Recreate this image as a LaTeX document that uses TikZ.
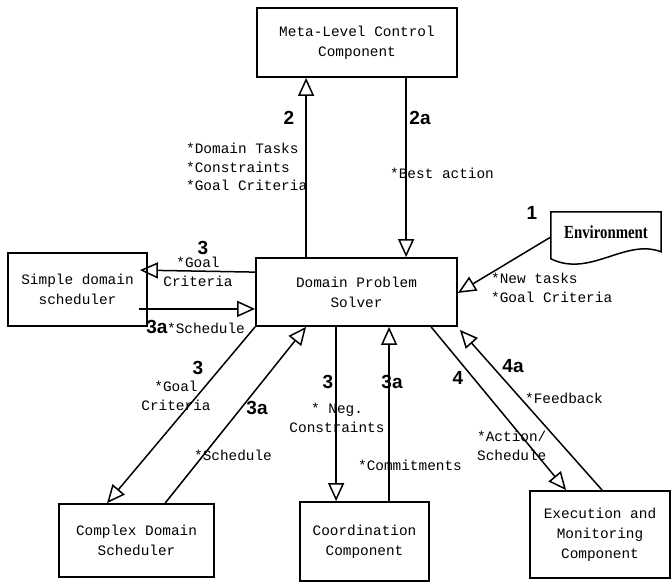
\documentclass[tikz,border=0pt]{standalone}
\usepackage{fontspec}
\setmonofont{Liberation Mono}
\newfontfamily\numfont{Liberation Sans}
\newfontfamily\envfont[FakeStretch=0.8]{Liberation Serif}
\usetikzlibrary{arrows.meta}
\usetikzlibrary{calc}

\begin{document}
\begin{tikzpicture}[x=1pt, y=-1pt,
	box/.style={draw, line width=1.8pt, inner sep=0pt, align=center,
		font=\ttfamily\fontsize{14.4}{20}\selectfont},
	flow/.style={line width=1.5pt, -{Triangle[open, length=18pt, width=16pt]}},
	lbl/.style={inner sep=0pt, font=\ttfamily\fontsize{14.4}{18.5}\selectfont},
	num/.style={inner sep=0pt, font=\numfont\bfseries\fontsize{19}{19}\selectfont}]
	\useasboundingbox (0,0) rectangle (671,582);
	
	% the boxes
	\node[box, minimum width=200pt, minimum height=69pt] (meta) at (357,42.5) {Meta-Level Control\\Component};
	\node[box, minimum width=201pt, minimum height=68pt] (dps) at (356.5,292) {Domain Problem\\Solver};
	\node[box, minimum width=139pt, minimum height=73pt] (simple) at (77.5,289.5) {Simple domain\\scheduler};
	\node[box, minimum width=155pt, minimum height=73pt] (complex) at (136.5,540.5) {Complex Domain\\Scheduler};
	\node[box, minimum width=129pt, minimum height=79pt] (coord) at (364.5,541.5) {Coordination\\Component};
	\node[box, minimum width=140pt, minimum height=87pt] (exec) at (600,534.5) {Execution and\\Monitoring\\Component};
	
	% environment (document shape)
	\node[inner sep=0pt, minimum width=110pt, minimum height=40pt,
		font=\envfont\bfseries\fontsize{18.5}{18.5}\selectfont] (env) at (606,232) {Environment};
	\draw[line width=1.5pt] (env.north west) -- (env.north east) -- ([yshift=-40pt]env.north east)
		.. controls (625,238) and (590,278) .. ([yshift=-47pt]env.north west) -- cycle;
	
	% meta level
	\draw[flow] ([xshift=51pt]dps.north west) -- ([xshift=50pt]meta.south west);
	\draw[flow] ([xshift=150pt]meta.south west) -- ([xshift=151pt]dps.north west);
	\node[num] at (289,118) {2};
	\node[num] at (420,118) {2a};
	\node[lbl, anchor=west, align=left] at (186,167) {*Domain Tasks\\*Constraints\\*Goal Criteria};
	\node[lbl, anchor=west] at (390,173) {*Best action};
	
	% environment
	\draw[flow] ([yshift=-5pt]env.west) -- ([yshift=34pt]dps.south east);
	\node[num] at (532,213) {1};
	\node[lbl, anchor=west, align=left] at (491,288) {*New tasks\\*Goal Criteria};
	
	% simple domain scheduler
	\draw[flow] ([yshift=-15pt]dps.north west) -- ([xshift=-8pt, yshift=-18pt]simple.north east);
	\draw[flow] ([xshift=-9pt, yshift=18pt]simple.south east) -- ([yshift=18pt]dps.south west);
	\node[num] at (203,248) {3};
	\node[lbl, align=center] at (198,272) {*Goal\\Criteria};
	\node[num] at (157,327) {3a};
	\node[lbl] at (206,328) {*Schedule};
	
	% complex domain scheduler
	\draw[flow] (dps.south west) -- ([xshift=49pt]complex.north west);
	\draw[flow] ([xshift=107pt]complex.north west) -- ([xshift=51pt]dps.south west);
	\node[num] at (198,368) {3};
	\node[lbl, align=center] at (176,396) {*Goal\\Criteria};
	\node[num] at (257,408) {3a};
	\node[lbl] at (233,455) {*Schedule};
	
	% coordination
	\draw[flow] ([xshift=81pt]dps.south west) -- ([xshift=37pt]coord.north west);
	\draw[flow] ([xshift=90pt]coord.north west) -- ([xshift=134pt]dps.south west);
	\node[num] at (328,382) {3};
	\node[lbl, align=center] at (337,418) {* Neg.\\Constraints};
	\node[num] at (392,382) {3a};
	\node[lbl] at (410,465) {*Commitments};
	
	% execution and monitoring
	\draw[flow] ([xshift=176pt]dps.south west) -- ([xshift=37pt]exec.north west);
	\draw[flow] ([xshift=73pt]exec.north west) -- ([xshift=2pt, yshift=-3pt]dps.south east);
	\node[num] at (458,378) {4};
	\node[lbl, anchor=west, align=left] at (477,446) {*Action/\\Schedule};
	\node[num] at (513,366) {4a};
	\node[lbl] at (564,398) {*Feedback};
\end{tikzpicture}
\end{document}
